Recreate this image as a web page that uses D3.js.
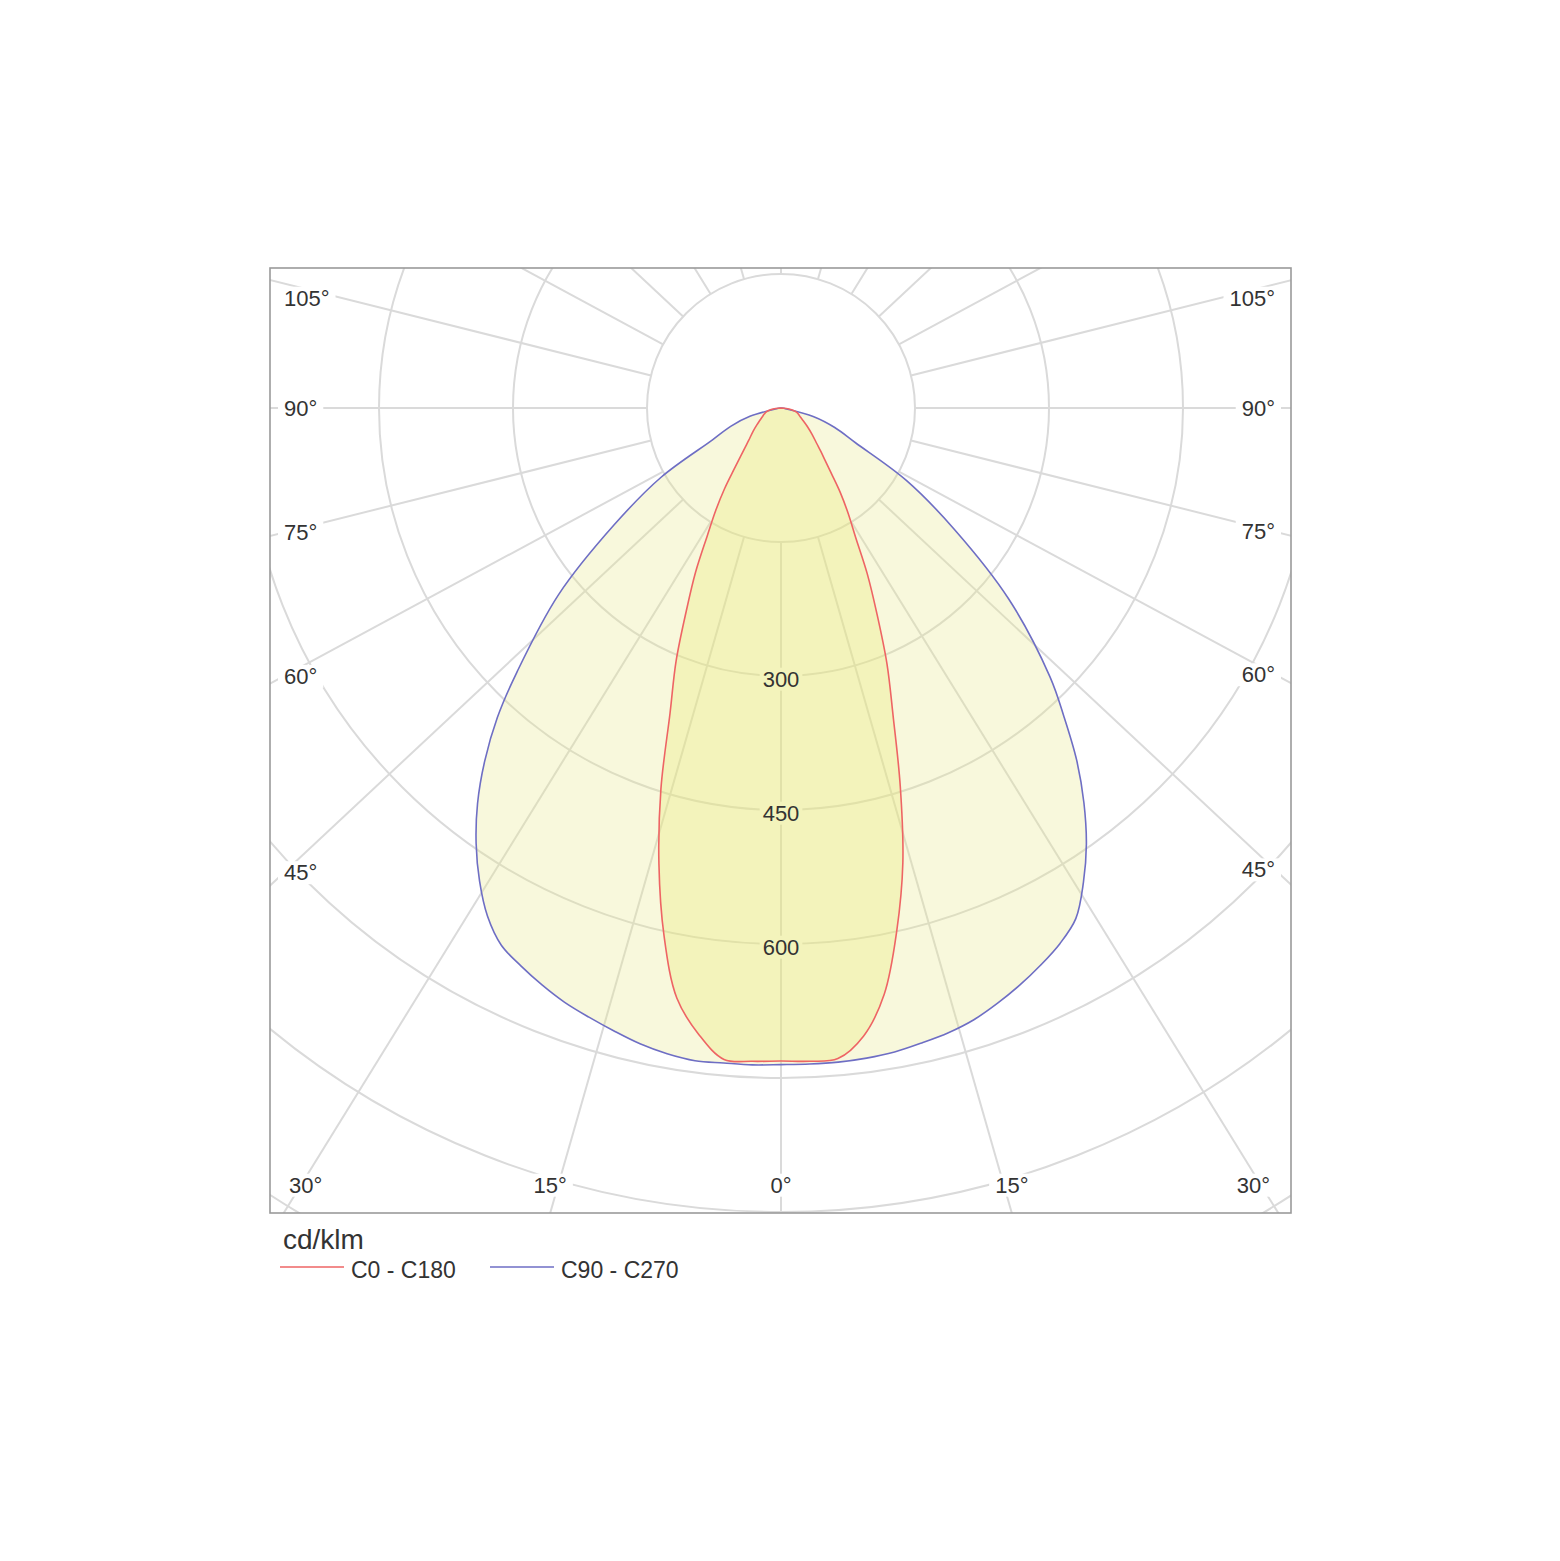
<!DOCTYPE html>
<html><head><meta charset="utf-8">
<script src="https://cdn.jsdelivr.net/npm/d3@7"></script>
<style>
body{margin:0;background:#fff}
svg{display:block}
text{font-family:"Liberation Sans",Arial,sans-serif}
</style>
</head><body>
<svg id="chart" width="1560" height="1561"></svg>
<script>
// ---------- data (cd/klm) ----------
const polarAngles = [0,2.5,5,7.5,10,12.5,15,17.5,20,22.5,25,27.5,30,32.5,35,37.5,40,42.5,45,50,55,60,65,70,75,80,85,90];
const c0Values   = [731,732,731,709,666,599,527,444,367,310,254,209,167,140,116,93,77,66,57,45,36,29,24,21,18,12,6,0];
const c180Values = [731,732,732,707,671,605,528,447,363,307,251,207,165,136,110,86,70,59,51,41,33,27,23,20,17,12,6,0];
const c90Values  = [735,735,735,734,732,728,724,718,709,699,688,676,660,630,596,557,515,469,426,333,237,162,92,64,38,6,1,0];
const c270Values = [735,736,736,737,734,729,722,715,708,699,689,678,657,628,595,558,516,470,418,325,228,155,85,60,36,5,1,0];
const gridValues = [150,300,450,600,750,900,1050];
const valueTickLabels = [300,450,600];
const degreeTickLabels = [0,15,30,45,60,75,90,105];
const spokeAngles = [0,15,30,45,60,75,90,105,120,135,150,165,180,195,210,225,240,255,270,285,300,315,330,345];
const unitLabel = "cd/klm";
const seriesNames = ["C0 - C180","C90 - C270"];

// ---------- layout ----------
const frame = {x:270, y:268, w:1021, h:945};
const cx = 781, cy = 408;
const r = d3.scaleLinear().domain([0,150]).range([0,134]);
const spokeStretch = 1.07;
const labelBox = {l:284, r:1275, t:298, b:1185, bl:289, br:1270};
const colors = {red:"#ee6464", blue:"#6e6ec4", grid:"#dadada", frame:"#9a9a9a", text:"#333"};
const rad = a => a*Math.PI/180;

const svg = d3.select("#chart");
svg.append("defs").append("clipPath").attr("id","clip").append("rect")
  .attr("x",frame.x).attr("y",frame.y).attr("width",frame.w).attr("height",frame.h);
const root = svg.append("g").attr("clip-path","url(#clip)");
const gridG = root.append("g");
const bgG = root.append("g");
const fillG = root.append("g");
const lineG = root.append("g");
const textG = root.append("g");

// grid circles
gridG.selectAll("circle").data(gridValues).join("circle")
  .attr("cx",cx).attr("cy",cy).attr("r",d=>r(d))
  .attr("fill","none").attr("stroke",colors.grid).attr("stroke-width",2);

// spokes
function dir(a, s=1){
  const dx = s*spokeStretch*Math.sin(rad(a)), dy = Math.cos(rad(a));
  const n = Math.hypot(dx,dy);
  return [dx/n, dy/n];
}
gridG.selectAll("line").data(spokeAngles).join("line")
  .attr("x1",a=>cx+dir(a)[0]*r(150)).attr("y1",a=>cy+dir(a)[1]*r(150))
  .attr("x2",a=>cx+dir(a)[0]*2000).attr("y2",a=>cy+dir(a)[1]*2000)
  .attr("stroke",colors.grid).attr("stroke-width",2);

// curves
function outline(rightVals, leftVals){
  const pts = [];
  for (let i=polarAngles.length-1;i>=0;i--) pts.push({a:polarAngles[i], v:rightVals[i], s:1});
  for (let i=1;i<polarAngles.length;i++) pts.push({a:polarAngles[i], v:leftVals[i], s:-1});
  return pts;
}
const line = d3.line()
  .x(d=>cx + d.s*r(d.v)*Math.sin(rad(d.a)))
  .y(d=>cy + r(d.v)*Math.cos(rad(d.a)))
  .curve(d3.curveCatmullRom.alpha(0.5));
const series = [
  {name:seriesNames[1], pts:outline(c90Values,c270Values), stroke:colors.blue, fill:"rgba(232,232,138,0.30)"},
  {name:seriesNames[0], pts:outline(c0Values,c180Values), stroke:colors.red, fill:"rgba(231,231,113,0.30)"}
];
series.forEach(sr=>{
  fillG.append("path").attr("d", line(sr.pts)+"Z").attr("fill",sr.fill).attr("stroke","none");
});
series.forEach(sr=>{
  lineG.append("path").attr("d", line(sr.pts)+"Z").attr("fill","none")
    .attr("stroke",sr.stroke).attr("stroke-width",1.6).attr("stroke-linejoin","round");
});

// value labels
const labelNodes = [];
valueTickLabels.forEach(v=>{
  const t = textG.append("text").attr("x",cx).attr("y",cy+r(v)+3).attr("dy","0.35em")
    .attr("text-anchor","middle").attr("font-size",22).attr("fill",colors.text).text(v);
  labelNodes.push({t, pad:3});
});

// degree labels
const frameBottom = frame.y + frame.h;
degreeTickLabels.forEach(a=>{
  (a===0?[1]:[1,-1]).forEach(s=>{
    const u = dir(a,s);
    let x, y, anchor, bottom=false;
    if (Math.abs(u[0])>1e-9){
      const edge = s>0?labelBox.r:labelBox.l;
      const ySide = cy + (edge-cx)/u[0]*u[1];
      if (ySide < labelBox.b-30){
        x = edge; y = Math.max(ySide,labelBox.t); anchor = s>0?"end":"start";
      } else bottom = true;
    } else bottom = true;
    if (bottom){
      x = cx + (frameBottom-cy)/u[1]*u[0]; y = labelBox.b; anchor = "middle";
    }
    const t = textG.append("text").attr("x",x).attr("y",y).attr("dy","0.35em")
      .attr("text-anchor",anchor).attr("font-size",22).attr("fill",colors.text).text(a+"°");
    if (bottom){
      const bb = t.node().getBBox();
      if (bb.x+bb.width > labelBox.br) t.attr("x", x-(bb.x+bb.width-labelBox.br));
      if (bb.x < labelBox.bl) t.attr("x", x+(labelBox.bl-bb.x));
    }
    labelNodes.push({t, pad:6});
  });
});

// white backgrounds behind labels
labelNodes.forEach(({t,pad})=>{
  const bb = t.node().getBBox();
  bgG.append("rect").attr("x",bb.x-pad).attr("y",bb.y+1).attr("width",bb.width+2*pad).attr("height",bb.height-2)
    .attr("fill","#fff");
});

// frame
svg.append("rect").attr("x",frame.x).attr("y",frame.y).attr("width",frame.w).attr("height",frame.h)
  .attr("fill","none").attr("stroke",colors.frame).attr("stroke-width",1.6);

// legend
const leg = svg.append("g");
leg.append("text").attr("x",283).attr("y",1249).attr("font-size",28).attr("fill",colors.text).text(unitLabel);
const legItems = [
  {name:seriesNames[0], color:colors.red, x:280},
  {name:seriesNames[1], color:colors.blue, x:490}
];
legItems.forEach(it=>{
  leg.append("line").attr("x1",it.x).attr("x2",it.x+64).attr("y1",1267).attr("y2",1267)
    .attr("stroke",it.color).attr("stroke-width",1.6);
  leg.append("text").attr("x",it.x+71).attr("y",1278).attr("font-size",23).attr("fill",colors.text).text(it.name);
});
</script>
</body></html>
